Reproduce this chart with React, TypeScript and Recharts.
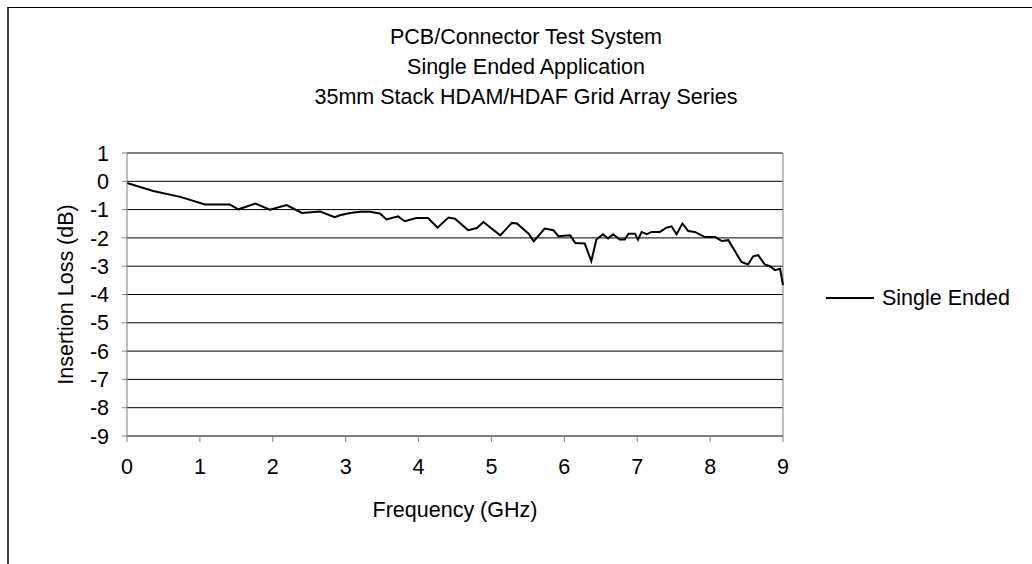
import React from 'react';
import {
  LineChart,
  Line,
  XAxis,
  YAxis,
  CartesianGrid,
  ReferenceLine,
} from 'recharts';

const freqGHz = [
  0, 0.36, 0.73, 1.07, 1.41, 1.53, 1.76, 1.96, 2.19, 2.4, 2.65, 2.85, 2.92, 3.06,
  3.2, 3.33, 3.47, 3.56, 3.72, 3.81, 3.97, 4.13, 4.26, 4.41, 4.5, 4.68, 4.8, 4.89,
  5.12, 5.28, 5.35, 5.51, 5.58, 5.73, 5.85, 5.92, 6.08, 6.15, 6.28, 6.37, 6.44,
  6.53, 6.6, 6.67, 6.76, 6.83, 6.88, 6.97, 7.01, 7.06, 7.13, 7.2, 7.31, 7.4, 7.47,
  7.54, 7.62, 7.7, 7.79, 7.93, 8.07, 8.16, 8.25, 8.43, 8.52, 8.59, 8.66, 8.75,
  8.82, 8.89, 8.96, 9.0,
];

const singleEnded = [
  -0.06, -0.34, -0.55, -0.82, -0.82, -0.99, -0.79, -1.0, -0.84, -1.12, -1.07,
  -1.27, -1.2, -1.12, -1.08, -1.08, -1.14, -1.35, -1.24, -1.41, -1.3, -1.3, -1.64,
  -1.28, -1.32, -1.73, -1.65, -1.44, -1.91, -1.47, -1.49, -1.85, -2.12, -1.67,
  -1.73, -1.94, -1.91, -2.18, -2.2, -2.82, -2.06, -1.87, -2.02, -1.87, -2.06,
  -2.06, -1.85, -1.85, -2.06, -1.79, -1.87, -1.79, -1.79, -1.64, -1.59, -1.87,
  -1.49, -1.76, -1.79, -1.97, -1.97, -2.11, -2.08, -2.85, -2.94, -2.65, -2.61,
  -2.94, -3.0, -3.14, -3.09, -3.67,
];

const xTicks = [0, 1, 2, 3, 4, 5, 6, 7, 8, 9];
const yTicks = [1, 0, -1, -2, -3, -4, -5, -6, -7, -8, -9];

const titleLines = [
  'PCB/Connector Test System',
  'Single Ended Application',
  '35mm Stack HDAM/HDAF Grid Array Series',
];

const data = freqGHz.map((f, i) => ({ f, se: singleEnded[i] }));

const font = 'Arial, "Liberation Sans", sans-serif';
const fs = 21.5;

export default function App() {
  return (
    <div
      style={{
        position: 'absolute',
        left: 0,
        top: 0,
        width: 1032,
        height: 564,
        overflow: 'hidden',
        background: '#fff',
        fontFamily: font,
      }}
    >
      <div
        style={{
          position: 'absolute',
          left: 7,
          top: 7,
          width: 1100,
          height: 600,
          borderTop: '1px solid #000',
          borderLeft: '2px solid #444',
        }}
      />
      <div
        style={{
          position: 'absolute',
          left: 276,
          top: 22,
          width: 500,
          textAlign: 'center',
          fontSize: fs,
          lineHeight: '30px',
          color: '#000',
        }}
      >
        {titleLines.map((t) => (
          <div key={t}>{t}</div>
        ))}
      </div>
      <div style={{ position: 'absolute', left: 0, top: 0 }}>
        <LineChart
          width={1032}
          height={564}
          data={data}
          margin={{ top: 153, right: 249, bottom: 98, left: 87 }}
        >
          <CartesianGrid vertical={false} stroke="#000" strokeWidth={1} />
          <XAxis
            dataKey="f"
            type="number"
            domain={[0, 9]}
            ticks={xTicks}
            height={30}
            stroke="#808080"
            tickSize={6}
            tickMargin={17}
            tick={{ fill: '#000', fontSize: fs, fontFamily: font }}
            label={{
              value: 'Frequency (GHz)',
              position: 'bottom',
              offset: 36,
              fill: '#000',
              fontSize: fs,
              fontFamily: font,
            }}
          />
          <YAxis
            type="number"
            domain={[-9, 1]}
            ticks={yTicks}
            width={40}
            stroke="#808080"
            tickSize={5}
            tickMargin={13}
            interval={0}
            tick={{ fill: '#000', fontSize: fs, fontFamily: font }}
            label={{
              value: 'Insertion Loss (dB)',
              angle: -90,
              position: 'left',
              offset: 22,
              fill: '#000',
              fontSize: fs,
              fontFamily: font,
              style: { textAnchor: 'middle' },
            }}
          />
          <ReferenceLine y={1} stroke="#808080" />
          <ReferenceLine x={9} stroke="#808080" />
          <Line
            type="linear"
            dataKey="se"
            name="Single Ended"
            stroke="#000"
            strokeWidth={2}
            dot={false}
            isAnimationActive={false}
          />
        </LineChart>
      </div>
      <div
        style={{
          position: 'absolute',
          left: 826,
          top: 286,
          display: 'flex',
          alignItems: 'center',
          fontSize: fs,
          lineHeight: '24px',
          whiteSpace: 'nowrap',
        }}
      >
        <div style={{ width: 48, height: 0, borderTop: '2px solid #000', marginRight: 8 }} />
        <span>Single Ended</span>
      </div>
    </div>
  );
}
